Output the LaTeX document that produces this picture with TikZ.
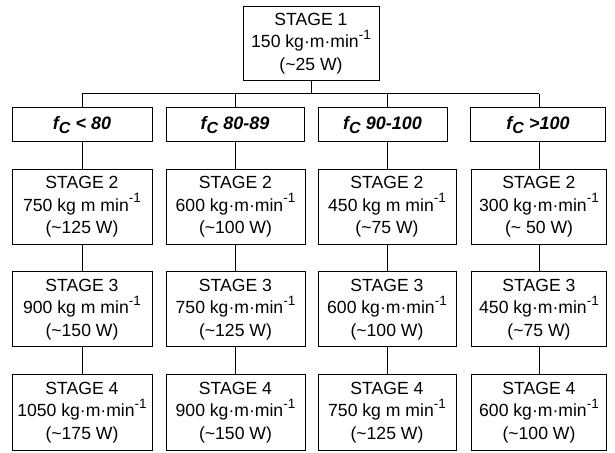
\documentclass[tikz,border=0pt]{standalone}
\usepackage{fontspec}
\setmainfont{Liberation Sans}
\newcommand\mysup{\raisebox{0.5em}{\fontsize{13.5}{13.5}\selectfont -1}}
\newcommand\dt{\textperiodcentered}
\newcommand\fc{\textit{f}\raisebox{-4pt}{\fontsize{16}{16}\selectfont C}}
\begin{document}
\begin{tikzpicture}[x=1pt,y=1pt,line width=1pt,
  box/.style={draw=black,fill=white,align=center,inner sep=0pt,font=\fontsize{17.6}{22.5}\selectfont,minimum height=75pt},
  hdr/.style={draw=black,fill=white,align=center,inner sep=0pt,font=\fontsize{18}{20}\selectfont\bfseries\itshape,minimum height=34pt},
  link/.style={draw=black,line width=1pt}]
\useasboundingbox (0,0) rectangle (615,452);
% stage 1
\node[box,minimum width=136pt,minimum height=74pt] (s1) at (311,408.5) {STAGE 1\\150 kg\dt m\dt min\mysup\\(\textasciitilde 25 W)};
\coordinate (j) at (311,358);
\coordinate (j1) at (82,358);
\coordinate (j2) at (235.5,358);
\coordinate (j3) at (387,358);
\coordinate (j4) at (539,358);
% headers
\node[hdr,minimum width=140pt] (h1) at (82,327) {\fc{} < 80};
\node[hdr,minimum width=138pt] (h2) at (235,327) {\fc{} 80-89};
\node[hdr,minimum width=129pt] (h3) at (382.5,327) {\fc{} 90-100};
\node[hdr,minimum width=135pt] (h4) at (538,327) {\fc{} >100};
% column 1
\node[box,minimum width=140pt] (a2) at (82,245) {STAGE 2\\750 kg m min\mysup\\(\textasciitilde 125 W)};
\node[box,minimum width=140pt] (a3) at (82,142.5) {STAGE 3\\900 kg m min\mysup\\(\textasciitilde 150 W)};
\node[box,minimum width=140pt] (a4) at (82,39.5) {STAGE 4\\1050 kg\dt m\dt min\mysup\\(\textasciitilde 175 W)};
% column 2
\node[box,minimum width=139pt] (b2) at (235.5,245) {STAGE 2\\600 kg\dt m\dt min\mysup\\(\textasciitilde 100 W)};
\node[box,minimum width=139pt] (b3) at (235.5,142.5) {STAGE 3\\750 kg\dt m\dt min\mysup\\(\textasciitilde 125 W)};
\node[box,minimum width=139pt] (b4) at (235.5,39.5) {STAGE 4\\900 kg\dt m\dt min\mysup\\(\textasciitilde 150 W)};
% column 3
\node[box,minimum width=138pt] (c2) at (387,245) {STAGE 2\\450 kg m min\mysup\\(\textasciitilde 75 W)};
\node[box,minimum width=138pt] (c3) at (387,142.5) {STAGE 3\\600 kg\dt m\dt min\mysup\\(\textasciitilde 100 W)};
\node[box,minimum width=138pt] (c4) at (387,39.5) {STAGE 4\\750 kg m min\mysup\\(\textasciitilde 125 W)};
% column 4
\node[box,minimum width=135pt] (d2) at (539,245) {STAGE 2\\300 kg\dt m\dt min\mysup\\(\textasciitilde{} 50 W)};
\node[box,minimum width=135pt] (d3) at (539,142.5) {STAGE 3\\450 kg\dt m\dt min\mysup\\(\textasciitilde 75 W)};
\node[box,minimum width=135pt] (d4) at (539,39.5) {STAGE 4\\600 kg\dt m\dt min\mysup\\(\textasciitilde 100 W)};
% connectors
\draw[link] (s1.south) -- (j);
\draw[link] (j1) -- (j4);
\draw[link] (j1) -- (j1 |- h1.north);
\draw[link] (j2) -- (j2 |- h2.north);
\draw[link] (j3) -- (j3 |- h3.north);
\draw[link] (j4) -- (j4 |- h4.north);
\draw[link] (h1.south -| a2.north) -- (a2.north);
\draw[link] (h2.south -| b2.north) -- (b2.north);
\draw[link] (h3.south -| c2.north) -- (c2.north);
\draw[link] (h4.south -| d2.north) -- (d2.north);
\draw[link] (a2) -- (a3); \draw[link] (a3) -- (a4);
\draw[link] (b2) -- (b3); \draw[link] (b3) -- (b4);
\draw[link] (c2) -- (c3); \draw[link] (c3) -- (c4);
\draw[link] (d2) -- (d3); \draw[link] (d3) -- (d4);
\end{tikzpicture}
\end{document}
